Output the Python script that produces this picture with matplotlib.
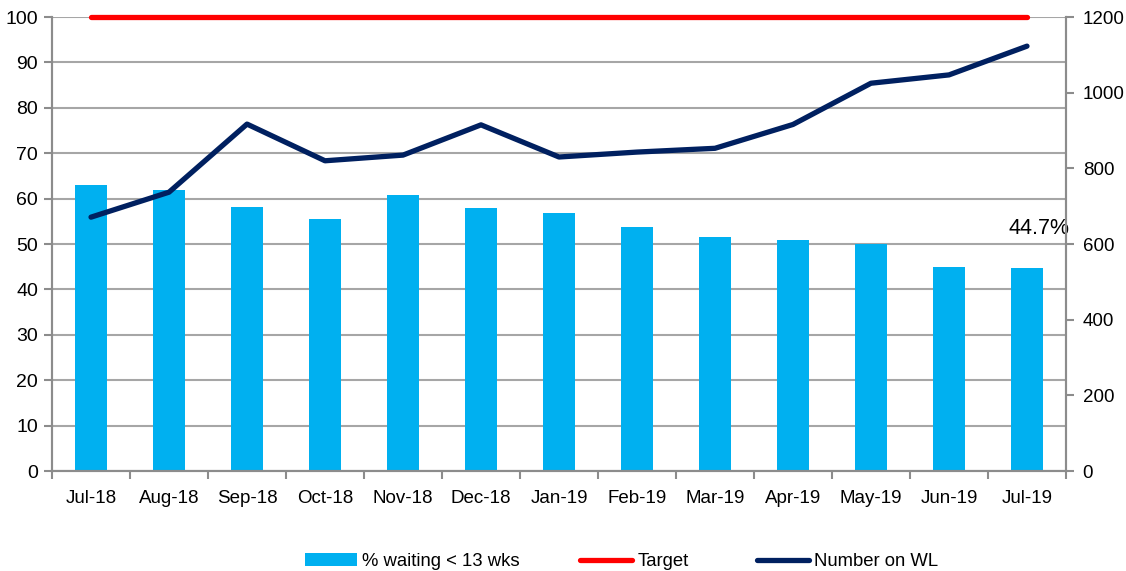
import numpy as np
import matplotlib
matplotlib.use('Agg')
import matplotlib.pyplot as plt

plt.rcParams['font.family'] = ['Liberation Sans', 'DejaVu Sans']

months = ['Jul-18', 'Aug-18', 'Sep-18', 'Oct-18', 'Nov-18', 'Dec-18', 'Jan-19',
          'Feb-19', 'Mar-19', 'Apr-19', 'May-19', 'Jun-19', 'Jul-19']
pct_waiting = [63.0, 62.0, 58.1, 55.5, 60.9, 57.9, 56.8, 53.7, 51.5, 50.9, 50.0, 44.9, 44.7]
target = [100] * 13
number_on_wl = [671, 737, 917, 820, 835, 915, 830, 843, 853, 916, 1025, 1047, 1123]

grey = '#8c8c8c'
fig = plt.figure(figsize=(11.26, 5.71), dpi=100)
ax = fig.add_axes([0.0462, 0.1751, 0.9005, 0.7951])
ax2 = ax.twinx()

x = np.arange(len(months))
bars = ax.bar(x, pct_waiting, width=0.40, color='#00b0f0', zorder=2,
              label='% waiting < 13 wks')
tline, = ax.plot(x, target, color='#ff0000', lw=3.8, solid_capstyle='round',
                 zorder=4, label='Target', clip_on=False)
wline, = ax2.plot(x, number_on_wl, color='#002060', lw=3.8, solid_capstyle='round',
                  label='Number on WL', zorder=3)

ax.set_xlim(-0.5, len(months) - 0.5)
ax.set_ylim(0, 100)
ax2.set_ylim(0, 1200)
ax.set_yticks(range(0, 101, 10))
ax2.set_yticks(range(0, 1201, 200))
ax.set_xticks(x)
ax.set_xticklabels(months)
ax.set_xticks(np.arange(-0.5, len(months), 1), minor=True)
ax.tick_params(axis='x', which='major', length=0, pad=14, labelsize=13.5)
ax.tick_params(axis='x', which='minor', length=6, width=1.5, color=grey, direction='out')
ax.tick_params(axis='y', length=6, width=1.5, color=grey, labelsize=14, pad=4)
ax2.tick_params(axis='y', length=6, width=1.5, color=grey, labelsize=13.5, pad=6)

ax.grid(axis='y', color='#a6a6a6', lw=1.5, zorder=0)
ax.set_axisbelow(True)
for a in (ax, ax2):
    a.spines['top'].set_visible(False)
    for s in ('left', 'right', 'bottom'):
        a.spines[s].set_color(grey)
        a.spines[s].set_linewidth(1.5)
ax2.set_zorder(ax.get_zorder() + 1)
ax.patch.set_visible(False)

ax.text(len(months) - 0.45, pct_waiting[-1] + 8.8, f'{pct_waiting[-1]}%', ha='right',
        va='center', fontsize=15.5)

# Excel-style legend with uneven spacing: one legend per entry
for handle, x0 in [(bars, 305), (tline, 580), (wline, 757)]:
    fig.legend(handles=[handle], loc='center left', bbox_to_anchor=(x0 / 1126, 0.016),
               frameon=False, fontsize=13.3, handlelength=2.8, handleheight=0.7,
               handletextpad=0.3, borderpad=0, borderaxespad=0)

fig.savefig('out.png', dpi=100)
